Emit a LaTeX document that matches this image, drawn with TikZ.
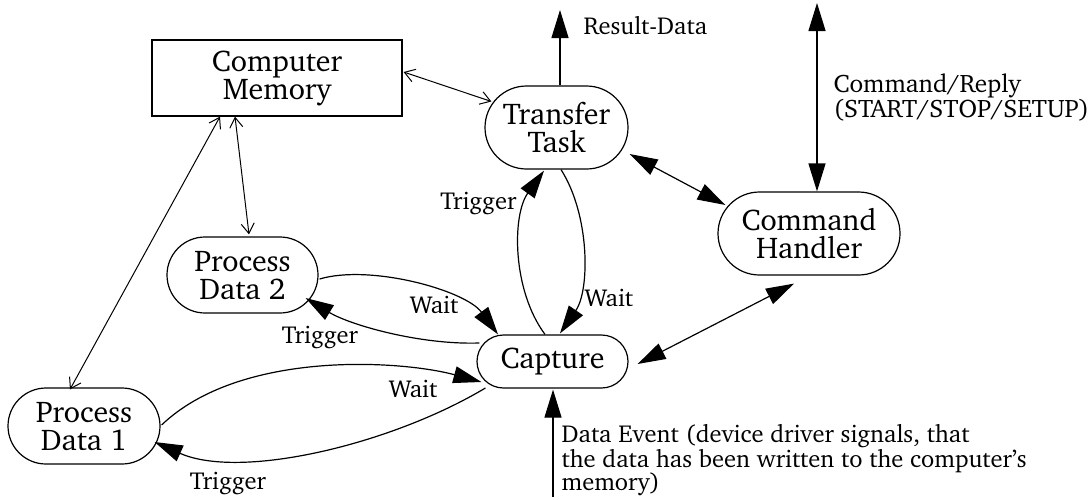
\documentclass[tikz,border=0pt]{standalone}
\usepackage[T1]{fontenc}
\renewcommand{\rmdefault}{bch}
\usetikzlibrary{arrows.meta,calc,shapes.misc}
\begin{document}
\begin{tikzpicture}[x=1pt,y=-1pt,line width=1.2pt,
  task/.style={draw,rounded rectangle,align=center,inner sep=0pt,
    font=\fontsize{30}{28}\selectfont},
  store/.style={draw,rectangle,align=center,inner sep=0pt,
    font=\fontsize{30}{28}\selectfont},
  lbl/.style={inner sep=0pt,font=\fontsize{24.5}{23}\selectfont},
  lbltext/.style={lbl,align=left},
  solid tip/.tip={Triangle[length=28pt,width=17pt]},
  open tip/.tip={Straight Barb[length=10pt,width=13pt]},
  flow/.style={-solid tip},
  dflow/.style={solid tip-solid tip},
  access/.style={open tip-open tip,line width=1pt}]
\useasboundingbox (0,0) rectangle (1091,499);

% ---- nodes ----
\node[store,minimum width=250pt,minimum height=76pt] (mem) at (277,78) {Computer\\Memory};
\node[task,minimum width=143pt,minimum height=83pt] (tt) at (556.5,127.5) {Transfer\\Task};
\node[task,minimum width=182pt,minimum height=83pt] (ch) at (809,233.5) {Command\\Handler};
\node[task,minimum width=151pt,minimum height=53pt] (cap) at (552.5,361.5) {Capture};
\node[task,minimum width=151pt,minimum height=76pt] (pd2) at (242.5,275) {Process\\Data 2};
\node[task,minimum width=152pt,minimum height=76pt] (pd1) at (84,426) {Process\\Data 1};

% free ends
\coordinate (res) at (560,10);
\coordinate (host) at (817,3);
\coordinate (drv) at (553,497);

% ---- memory access ----
\draw[access] ($(mem.east)+(1,-6)$) -- ($(tt.west)+(7,-26)$);
\draw[access] ($(mem.south)+(-42,0)$) -- ($(pd2.north)+(6.5,-2)$);
\draw[access] ($(mem.south)+(-57,0)$) -- ($(pd1.north)+(-14,2)$);

% ---- external interfaces ----
\draw[flow] ($(tt.north)+(3.5,0)$) -- (res);
\draw[dflow] ($(ch.north)+(8,0)$) -- (host);
\draw[flow] (drv) -- ($(cap.south)+(0.5,1)$);

% ---- command handler links ----
\draw[dflow] ($(tt.east)+(1,26.5)$) -- ($(ch.west)+(8,-28.5)$);
\draw[dflow] ($(cap.east)+(9,2.5)$) -- ($(ch.south)+(-15,8)$);

% ---- capture <-> transfer ----
\draw[flow] ($(tt.south)+(4.5,0)$) .. controls (590,215) and (590,290) .. ($(cap.north)+(7.5,-1)$);
\draw[flow] ($(cap.north)+(-7.5,0)$) .. controls (512,290) and (512,215) .. ($(tt.south)+(-12.5,1)$);

% ---- capture <-> process data 2 ----
\draw[flow] ($(pd2.east)+(1,4)$) .. controls (370,264) and (465,290) .. ($(cap.north)+(-54.5,0)$);
\draw[flow] ($(cap.west)+(3,-18.5)$) .. controls (420,345) and (350,325) .. ($(pd2.east)+(-13,23)$);

% ---- capture <-> process data 1 ----
\draw[flow] ($(pd1.east)+(1,-1)$) .. controls (240,350) and (400,360) .. ($(cap.west)+(5,20.5)$);
\draw[flow] ($(cap.west)+(9,26.5)$) .. controls (390,445) and (240,480) .. ($(pd1.east)+(-6,16)$);

% ---- labels ----
\node[lbl,anchor=base west] (lres) at (583,34) {Result-Data};
\node[lbltext,anchor=base west,font=\fontsize{25.3}{23}\selectfont] (lcmd) at (833,117) {Command/Reply\\(START/STOP/SETUP)};
\node[lbl,anchor=base east] (ltrig1) at (517,209) {Trigger};
\node[lbl,anchor=base west] (lwait1) at (584,306) {Wait};
\node[lbl,anchor=base] (lwait2) at (434,313) {Wait};
\node[lbl,anchor=base] (ltrig2) at (320,343) {Trigger};
\node[lbl,anchor=base] (lwait3) at (413,397) {Wait};
\node[lbl,anchor=base] (ltrig3) at (228,489) {Trigger};
\node[lbltext,anchor=base west] (lev) at (561,490)
  {Data Event (device driver signals, that\\the data has been written to the computer's\\memory)};
\end{tikzpicture}
\end{document}
